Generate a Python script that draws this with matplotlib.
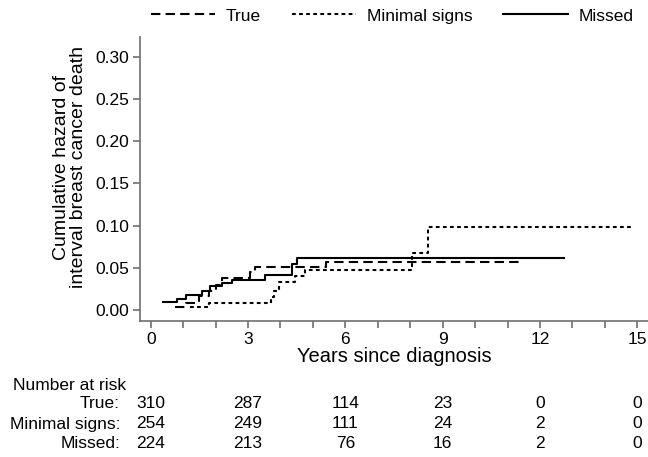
import numpy as np
import matplotlib
matplotlib.use("Agg")
import matplotlib.pyplot as plt

plt.rcParams['font.family'] = ['Liberation Sans', 'DejaVu Sans']

# step points (time in years, cumulative hazard), last point = end of follow-up
true_t = [0.75, 1.1, 1.5, 1.8, 2.0, 2.2, 3.05, 3.2, 5.4, 11.34]
true_h = [0.003, 0.008, 0.016, 0.022, 0.030, 0.038, 0.045, 0.051, 0.057, 0.057]

minimal_t = [1.2, 1.8, 3.7, 3.8, 3.95, 4.45, 4.75, 8.04, 8.54, 14.85]
minimal_h = [0.003, 0.008, 0.015, 0.022, 0.033, 0.040, 0.047, 0.068, 0.098, 0.098]

missed_t = [0.37, 0.8, 1.1, 1.57, 1.83, 2.19, 2.5, 3.52, 4.35, 4.5, 12.75]
missed_h = [0.009, 0.013, 0.018, 0.023, 0.028, 0.032, 0.036, 0.042, 0.0545, 0.062, 0.062]

risk_times = [0, 3, 6, 9, 12, 15]
risk_true = [310, 287, 114, 23, 0, 0]
risk_minimal = [254, 249, 111, 24, 2, 0]
risk_missed = [224, 213, 76, 16, 2, 0]

fig = plt.figure(figsize=(6.48, 4.57), dpi=100)
ax = fig.add_axes([140/648, 136.3/457, 508/648, 284/457])

l1, = ax.step(true_t, true_h, where='post', color='black', lw=1.5,
              dashes=(4.5, 2.5), label='True')
l2, = ax.step(minimal_t, minimal_h, where='post', color='black', lw=1.5,
              dashes=(1.8, 1.6), label='Minimal signs')
l3, = ax.step(missed_t, missed_h, where='post', color='black', lw=1.5,
              label='Missed')

ax.set_xlim(-0.33, 15.33)
ax.set_ylim(-0.0127, 0.324)
ax.set_xticks(range(0, 16, 3))
ax.set_xticks(range(0, 16), minor=True)
ax.set_yticks(np.arange(0, 0.31, 0.05))
ax.set_yticklabels(['%.2f' % v for v in np.arange(0, 0.31, 0.05)])
for s in ['top', 'right']:
    ax.spines[s].set_visible(False)
for s in ['left', 'bottom']:
    ax.spines[s].set_color('#707070')
    ax.spines[s].set_linewidth(1.2)
ax.tick_params(which='both', direction='out', length=5, width=1.2,
               color='#707070', labelsize=12.5, pad=3)

ax.set_xlabel('Years since diagnosis', fontsize=14.5, labelpad=0)
ax.set_ylabel('Cumulative hazard of\ninterval breast cancer death',
              fontsize=14, linespacing=1.0)
ax.yaxis.set_label_coords(-0.105, 0.54)

fig.legend(handles=[l1, l2, l3], loc='center', bbox_to_anchor=(0.605, 1 - 16/457),
           ncol=3, frameon=False, fontsize=12.5, handlelength=3.7,
           handletextpad=0.6, columnspacing=1.8)

# number at risk table
trans = ax.get_xaxis_transform()
fig.text(13/648, 1 - 385/457, 'Number at risk', fontsize=12.5, va='center')
rows = [('True:', risk_true, 404), ('Minimal signs:', risk_minimal, 424),
        ('Missed:', risk_missed, 443)]
for lab, vals, ypix in rows:
    fig.text(120/648, 1 - ypix/457, lab, fontsize=12.5, ha='right', va='center')
    yax = (457 - ypix - 136.3) / 284
    for t, v in zip(risk_times, vals):
        ax.text(t, yax, str(v), transform=trans, fontsize=12.5,
                ha='center', va='center', clip_on=False)

fig.savefig('out.png', dpi=100)
